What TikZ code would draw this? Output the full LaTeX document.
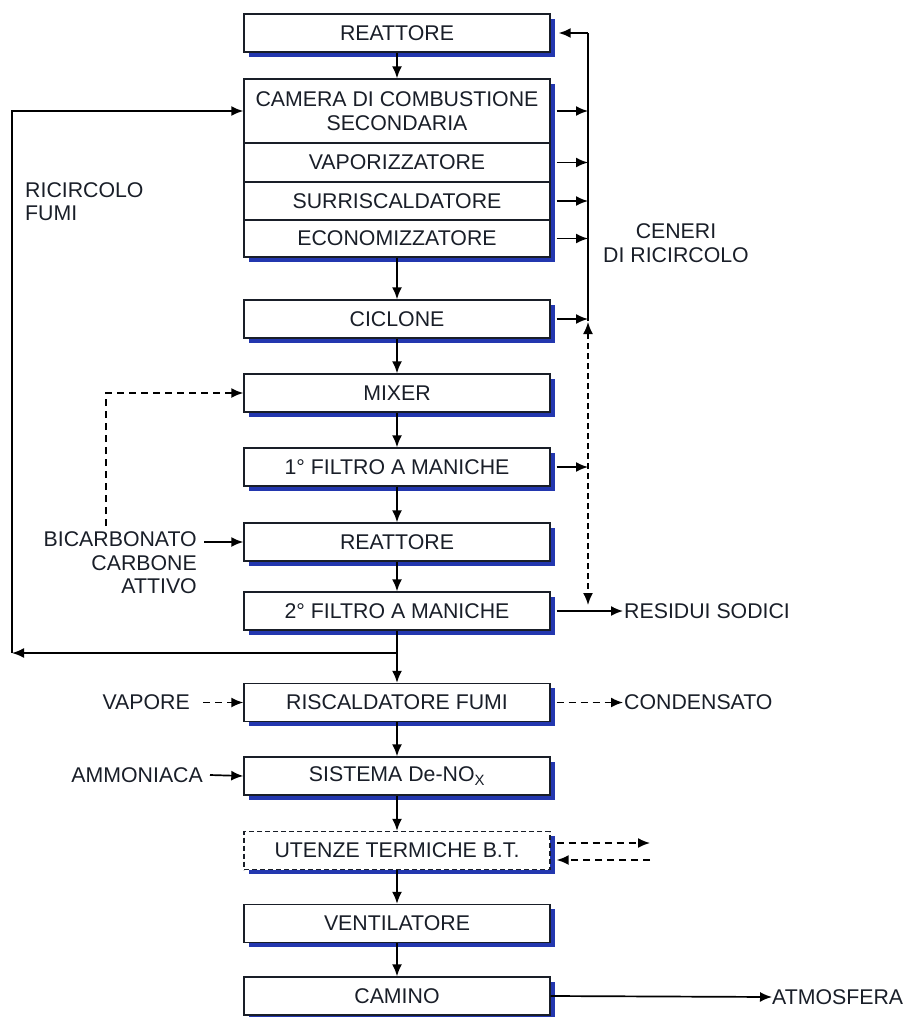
\documentclass[tikz,border=0pt]{standalone}
\usepackage{fontspec}
\setmainfont{Liberation Sans}
\usetikzlibrary{shadows,arrows.meta}
\definecolor{shad}{RGB}{35,55,175}
\definecolor{ink}{RGB}{25,30,40}
\tikzset{
  txt/.style={font=\fontsize{21.3}{23.5}\selectfont, text=ink, inner sep=1pt},
  blk/.style={txt, draw=ink, line width=1.4pt, fill=white, minimum width=306pt, minimum height=38pt,
    drop shadow={shadow xshift=4.5pt, shadow yshift=-4.5pt, fill=shad, opacity=1}},
  dblk/.style={blk, dashed, dash pattern=on 5pt off 3pt},
  arr/.style={line width=1.7pt, draw=black, -{Latex[length=12pt,width=10pt]}},
  darr/.style={arr, dash pattern=on 7pt off 5pt},
  ln/.style={line width=1.4pt, draw=black}
}
\begin{document}
\begin{tikzpicture}[x=1pt,y=-1pt]
\useasboundingbox (0,0) rectangle (915,1017);
% main column
\node[blk] (reat1) at (397,33) {REATTORE};
\node[blk, minimum height=64pt, align=center] (cam) at (397,111) {CAMERA DI COMBUSTIONE\\SECONDARIA};
\node[blk, minimum height=39pt] (vap) at (397,162.5) {VAPORIZZATORE};
\node[blk, minimum height=38pt] (sur) at (397,201) {SURRISCALDATORE};
\node[blk, minimum height=37pt] (eco) at (397,238.5) {ECONOMIZZATORE};
\node[blk] (cic) at (397,319) {CICLONE};
\node[blk] (mix) at (397,393) {MIXER};
\node[blk] (f1) at (397,467) {1° FILTRO A MANICHE};
\node[blk] (reat2) at (397,542) {REATTORE};
\node[blk] (f2) at (397,611) {2° FILTRO A MANICHE};
\node[blk] (risc) at (397,702.5) {RISCALDATORE FUMI};
\node[blk] (denox) at (397,776) {SISTEMA De-NO\textsubscript{X}};
\node[dblk] (ut) at (397,850.5) {UTENZE TERMICHE B.T.};
\node[blk] (vent) at (397,923.5) {VENTILATORE};
\node[blk] (cam2) at (397,996) {CAMINO};

% vertical flow
\draw[arr] (reat1) -- (cam);
\draw[arr] (eco) -- (cic);
\draw[arr] (cic) -- (mix);
\draw[arr] (mix) -- (f1);
\draw[arr] (f1) -- (reat2);
\draw[arr] (reat2) -- (f2);
\draw[arr] (f2) -- (risc);
\draw[arr] (risc) -- (denox);
\draw[arr] (denox) -- (ut);
\draw[arr] (ut) -- (vent);
\draw[arr] (vent) -- (cam2);

% recirculation of flue gas
\coordinate (j) at (397,653);
\coordinate (lc) at (12,653);
\draw[arr] (j) -- (lc);
\draw[arr] (lc) |- (cam.west);
\node[txt, anchor=north west, align=left] (ric) at (24,181) {RICIRCOLO\\FUMI};

% ash recirculation trunk
\coordinate (rt) at (588,33);
\coordinate (rb) at (588,321);
\draw[ln] (rb) -- (rt);
\draw[arr] (rt) -- ([xshift=8pt]reat1.east);
\draw[arr] ([xshift=6pt]cam.east) -- (cam.east -| rt);
\draw[arr] ([xshift=6pt]vap.east) -- (vap.east -| rt);
\draw[arr] ([xshift=6pt]sur.east) -- (sur.east -| rt);
\draw[arr] ([xshift=6pt]eco.east) -- (eco.east -| rt);
\draw[arr] ([xshift=6pt]cic.east) -- (cic.east -| rt);
\draw[arr] ([xshift=6pt]f1.east) -- (f1.east -| rt);
\coordinate (rd) at (588,605);
\draw[line width=1.7pt, dash pattern=on 6pt off 4pt, {Latex[length=12pt,width=10pt]}-{Latex[length=12pt,width=10pt]}] ([yshift=-1pt]rb) -- (rd);
\node[txt, align=center] (cen) at (676,243) {CENERI\\DI RICIRCOLO};

% residues
\node[txt, anchor=west] (res) at (623,611) {RESIDUI SODICI};
\draw[arr] ([xshift=6pt]f2.east) -- (res.west);

% reagents
\node[txt, anchor=east, align=right] (bic) at (198,563) {BICARBONATO\\CARBONE\\ATTIVO};
\draw[arr] ([xshift=6pt]bic.east |- reat2.west) -- (reat2.west);
\coordinate (bt) at (106,526);
\draw[darr] (bt) |- (mix.west);

% steam / condensate
\node[txt, anchor=east] (vapt) at (191,702.5) {VAPORE};
\draw[darr] ([xshift=12pt]vapt.east) -- (risc.west);
\node[txt, anchor=west] (cond) at (623,702.5) {CONDENSATO};
\draw[darr] ([xshift=6pt]risc.east) -- (cond.west);

% ammonia
\node[txt, anchor=east] (amm) at (204,775) {AMMONIACA};
\draw[arr] ([xshift=6pt]amm.east) -- (denox.west);

% thermal users
\coordinate (u1) at (650,843);
\coordinate (u2) at (650,860);
\draw[darr] ([xshift=6pt]ut.east |- u1) -- (u1);
\draw[darr] (u2) -- ([xshift=6pt]ut.east |- u2);

% stack
\node[txt, anchor=west, inner sep=0pt] (atm) at (772,997) {ATMOSFERA};
\draw[arr] (cam2.east) -- (atm.west);
\end{tikzpicture}
\end{document}
